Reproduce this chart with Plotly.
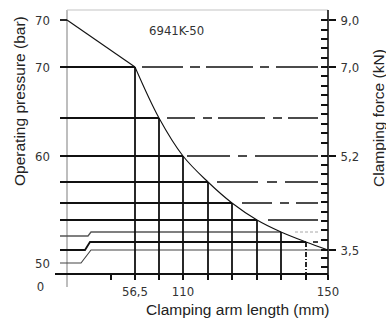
import plotly.graph_objects as go

# Clamping-force diagram for 6941K-50, kept in the drawing's own units
# (x: along the arm-length axis, y: up from the length axis).
CURVE_X = [0, 68, 92, 116, 141, 165, 190, 214, 239, 261]
CURVE_Y = [254, 207, 156, 118, 92, 71, 54, 42, 32, 24]

# where each level line leaves the pressure axis; the three lowest ones step up
START_Y = [254, 207, 156, 118, 92, 71, 54, 38, 24, 11]
BEND_FROM = [None, None, None, None, None, None, None, 21, 18, 14]
BEND_TO = [None, None, None, None, None, None, None, 24, 23, 24]

PRESSURE_TICKS = [254, 207, 118, 11, -12]
PRESSURE_TEXT = ["70", "70", "60", "50", "0\u2002"]

FORCE_TICKS = [254, 207, 118, 24]
FORCE_TEXT = ["9,0", "7,0", "5,2", "3,5"]
FORCE_MINOR = [244, 235, 226, 216, 198, 188, 179, 169, 160, 150, 141, 131,
               109, 100, 90, 81, 72, 62, 53, 44, 34, 16, 7]

LENGTH_TICKS = [44] + CURVE_X[1:]
LENGTH_TEXT = ["", "56,5", "", "110", "", "", "", "", "", "150"]

# continuation of each level line to the right of the curve (gap, dash pattern)
EXT_GAP = [None, 7, 8, 4, 9, 10, 11, 14, 7, None]
EXT_DASH = [None,
            "41px,7px,10px,6px,47px,7px,9px,7px,42px",
            "28px,8px,9px,6px,47px,8px,9px,6px,30px",
            "43px,8px,9px,8px,63px",
            "41px,9px,10px,8px,33px",
            "30px,8px,9px,7px,22px",
            "solid",
            "3px,2px",
            "solid",
            None]
EXT_END = 251

INK = "#111111"
GREY = "#a8a8a8"
TICK_FONT = dict(family="DejaVu Sans Condensed, Liberation Sans Narrow, sans-serif",
                 size=13, color="#333333")
TITLE_FONT = dict(family="Liberation Sans, Arial, sans-serif", size=15.5, color="#222222")

X_RANGE = [-14, 270]
Y_RANGE = [-16, 266]


def line(x, y, color=INK, width=1.8, dash="solid", shape="linear", yaxis="y"):
    return go.Scatter(x=x, y=y, mode="lines", yaxis=yaxis, showlegend=False,
                      hoverinfo="skip",
                      line=dict(color=color, width=width, dash=dash, shape=shape))


def px(x):
    return (x - X_RANGE[0]) / (X_RANGE[1] - X_RANGE[0])


def py(y):
    return (y - Y_RANGE[0]) / (Y_RANGE[1] - Y_RANGE[0])


def title(text, x, y, angle=0):
    fig.add_annotation(text=text, xref="paper", yref="paper", x=px(x), y=py(y),
                       xanchor="center", yanchor="middle", textangle=angle,
                       showarrow=False, font=TITLE_FONT)


fig = go.Figure()

# frame: grey pressure axis and top edge, black length and force axes
fig.add_trace(line([0, 0], [264, -13], color=GREY, width=1.5))
fig.add_trace(line([0, CURVE_X[-1]], [264, 264], color="#c4c4c4", width=1.2))
fig.add_trace(line([-12, CURVE_X[-1]], [0, 0], width=2))
fig.add_trace(line([CURVE_X[-1], CURVE_X[-1]], [264, -6], width=1.6))

# level lines from the pressure axis to the curve
for i, (cx, cy) in enumerate(zip(CURVE_X, CURVE_Y)):
    sy = START_Y[i]
    if BEND_FROM[i] is None:
        xs, ys = [-7, cx], [sy, cy]
    else:
        xs, ys = [-7, BEND_FROM[i], BEND_TO[i], cx], [sy, sy, cy, cy]
    width = {7: 1.3, 9: 1.1}.get(i, 1.8)
    color = {7: "#555555", 9: "#444444"}.get(i, INK)
    fig.add_trace(line(xs, ys, color=color, width=width))

    if EXT_GAP[i] is not None:
        ext_color = GREY if i == 7 else INK
        fig.add_trace(line([cx + EXT_GAP[i], EXT_END], [cy, cy], color=ext_color,
                           width=1.0 if i == 7 else 1.6, dash=EXT_DASH[i]))

# verticals from the curve down to the length axis
for i in range(1, len(CURVE_X) - 1):
    dash = "5px,2px,1px,2px" if i == len(CURVE_X) - 2 else "solid"
    fig.add_trace(line([CURVE_X[i], CURVE_X[i]], [CURVE_Y[i], 0], width=1.8,
                       dash=dash))

# force curve: straight to 56,5 then bending down to 150
fig.add_trace(line(CURVE_X[:2], CURVE_Y[:2], width=1.1))
fig.add_trace(line(CURVE_X[1:], CURVE_Y[1:], width=1.1, shape="spline"))

# empty traces so the right-hand axes are drawn
fig.add_trace(line([None], [None], yaxis="y2"))
fig.add_trace(line([None], [None], yaxis="y3"))

fig.add_annotation(text="6941K-50", x=109, y=244, showarrow=False, font=TICK_FONT)
title("Operating pressure (bar)", -48, 173, -90)
title("Clamping force (kN)", 311, 156, -90)
title("Clamping arm length (mm)", 170, -35)

fig.update_layout(
    width=386, height=320,
    margin=dict(l=53, r=49, t=8, b=30),
    paper_bgcolor="white", plot_bgcolor="white",
    showlegend=False, hovermode=False,
    xaxis=dict(range=X_RANGE, anchor="free", position=py(0), automargin=False,
               tickmode="array", tickvals=LENGTH_TICKS, ticktext=LENGTH_TEXT,
               ticks="outside", ticklen=5, tickwidth=1.8, tickcolor=INK,
               ticklabelstandoff=0, tickfont=TICK_FONT,
               showgrid=False, zeroline=False, showline=False),
    yaxis=dict(range=Y_RANGE, automargin=False, tickmode="array",
               tickvals=PRESSURE_TICKS, ticktext=PRESSURE_TEXT, ticks="",
               ticklabelstandoff=2, tickfont=TICK_FONT,
               showgrid=False, zeroline=False, showline=False),
    yaxis2=dict(range=Y_RANGE, overlaying="y", side="right", anchor="free",
                position=px(CURVE_X[-1]), automargin=False, tickmode="array",
                tickvals=FORCE_TICKS, ticktext=FORCE_TEXT, ticks="outside",
                ticklen=7, tickwidth=1.5, tickcolor=INK, tickfont=TICK_FONT,
                ticklabelstandoff=2,
                showgrid=False, zeroline=False, showline=False),
    yaxis3=dict(range=Y_RANGE, overlaying="y", side="right", anchor="free",
                position=px(CURVE_X[-1]), automargin=False, tickmode="array",
                tickvals=FORCE_TICKS + FORCE_MINOR, ticks="inside", ticklen=7,
                tickwidth=1.5, tickcolor=INK, showticklabels=False,
                showgrid=False, zeroline=False, showline=False),
)

# drop the browser's default page margin so the figure sits at the window's corner
fig.write_html("out.html", config={"displayModeBar": False},
               post_script="document.body.style.margin = '0';")
